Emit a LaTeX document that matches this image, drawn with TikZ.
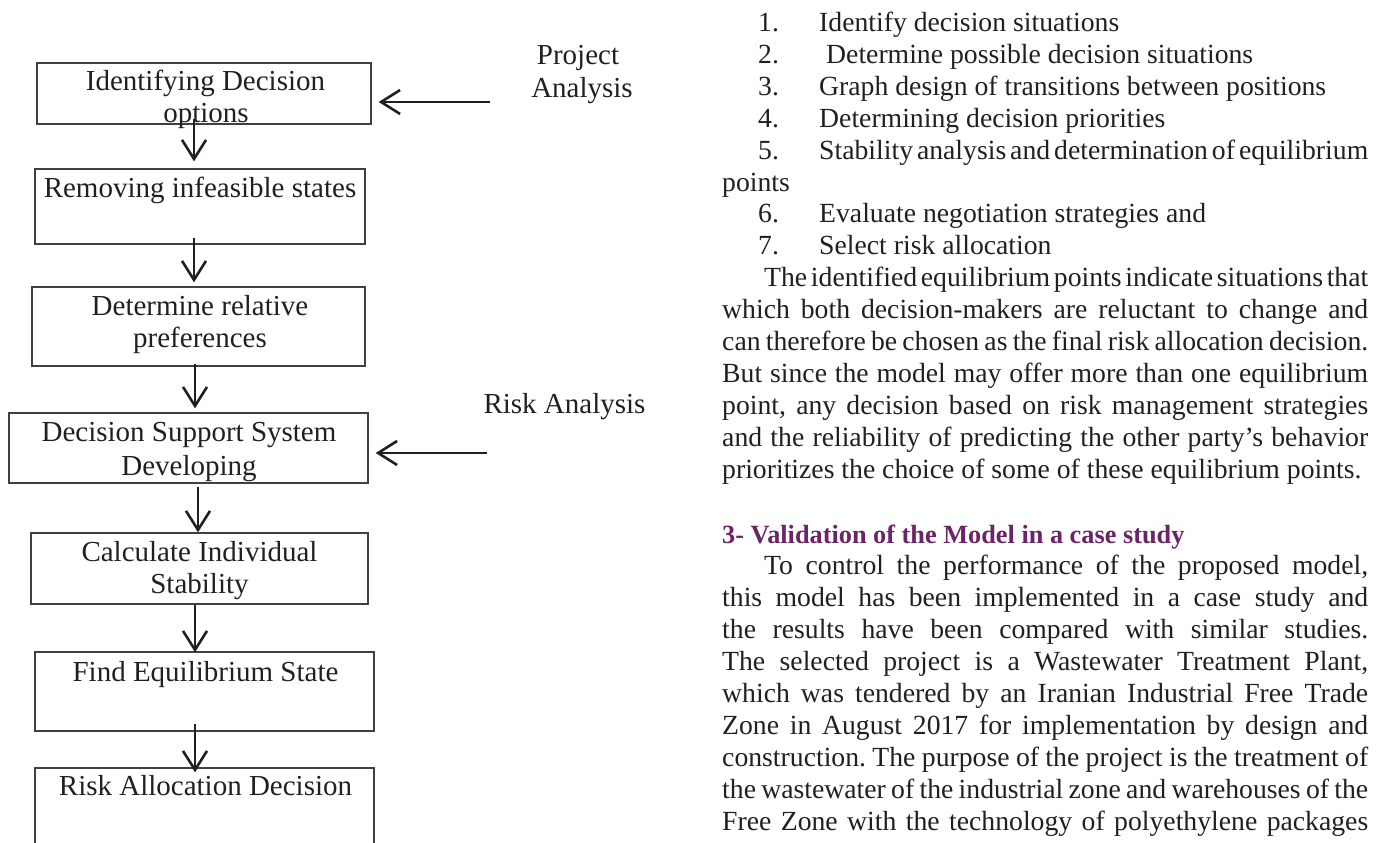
\documentclass[tikz,border=0pt]{standalone}
\usepackage{fontspec}
\setmainfont{Liberation Serif}
\usetikzlibrary{arrows.meta}
\definecolor{headpurple}{RGB}{108,36,104}
\definecolor{ink}{RGB}{35,31,32}
\newcommand{\jlw}[2]{\hbox to #1{\frenchspacing\spaceskip=0.25em plus 1fil minus 0.2em\relax #2}}
\begin{document}
\begin{tikzpicture}[x=1pt,y=-1pt,
  box/.style={draw=black!75, line width=1.3pt, inner sep=0pt, rectangle},
  btxt/.style={anchor=base, inner sep=0pt, text=ink, font=\fontsize{29}{32}\selectfont},
  rtxt/.style={anchor=base west, inner sep=0pt, text=ink, font=\fontsize{27.7}{32}\selectfont},
  htxt/.style={anchor=base west, inner sep=0pt, text=headpurple, font=\fontsize{26.3}{32}\selectfont\bfseries},
  arr/.style={line width=2.6pt, draw=ink, -{Straight Barb[length=19pt,width=24pt,line width=2.6pt]}}]
\useasboundingbox (0,0) rectangle (1376,843);
\clip (0,0) rectangle (1376,843);

% boxes
\node[box, minimum width=334pt, minimum height=61pt] (b1) at (204,93.5) {};
\node[box, minimum width=330pt, minimum height=75pt] (b2) at (200,206.5) {};
\node[box, minimum width=333pt, minimum height=79pt] (b3) at (198.5,326.5) {};
\node[box, minimum width=359pt, minimum height=70pt] (b4) at (188.5,448) {};
\node[box, minimum width=337pt, minimum height=71pt] (b5) at (199.5,568.5) {};
\node[box, minimum width=339pt, minimum height=79pt] (b6) at (204.5,691.5) {};
\node[box, minimum width=339pt, minimum height=120pt] (b7) at (204.5,828) {};

% box texts
\node[btxt] (t1a) at (205.5,91) {Identifying Decision};
\node[btxt] (t1b) at (206,122) {options};
\node[btxt] (t2) at (200,197) {Removing infeasible states};
\node[btxt] (t3a) at (200,315) {Determine relative};
\node[btxt] (t3b) at (200,347) {preferences};
\node[btxt] (t4a) at (189,441) {Decision Support System};
\node[btxt] (t4b) at (189,475) {Developing};
\node[btxt] (t5a) at (199.5,561) {Calculate Individual};
\node[btxt] (t5b) at (199.5,593) {Stability};
\node[btxt] (t6) at (205.5,681) {Find Equilibrium State};
\node[btxt] (t7) at (205.5,795.5) {Risk Allocation Decision};

% vertical arrows
\draw[arr] ([xshift=-10pt,yshift=6pt]b1.south) -- ([xshift=-6pt,yshift=7pt]b2.north);
\draw[arr] ([xshift=-6pt,yshift=7pt]b2.south) -- ([xshift=-4.5pt,yshift=4pt]b3.north);
\draw[arr] ([xshift=-3.5pt,yshift=3pt]b3.south) -- ([xshift=6.5pt,yshift=4pt]b4.north);
\draw[arr] ([xshift=9.5pt,yshift=-3pt]b4.south) -- ([xshift=-1.5pt,yshift=0pt]b5.north);
\draw[arr] ([xshift=-4.5pt]b5.south) -- ([xshift=-9.5pt,yshift=-1pt]b6.north);
\draw[arr] ([xshift=-9.5pt,yshift=8pt]b6.south) -- ([xshift=-9.5pt,yshift=-5pt]b7.north);

% side labels and arrows
\node[btxt] (pa1) at (578,65) {Project};
\node[btxt] (pa2) at (582,97.5) {Analysis};
\coordinate (pas) at (490,102);
\draw[arr, shorten >=7pt] (pas) -- (pas -| b1.east);
\node[btxt] (ra) at (564.5,413) {Risk Analysis};
\coordinate (ras) at (487,453);
\draw[arr, shorten >=7pt] (ras) -- (ras -| b4.east);

% right column text
\node[rtxt] (n1) at (758,31.5) {1.};
\node[rtxt] (i1) at (819,31.5) {Identify decision situations};
\node[rtxt] (n2) at (758,63.4) {2.};
\node[rtxt] (i2) at (826,63.4) {Determine possible decision situations};
\node[rtxt] (n3) at (758,95.3) {3.};
\node[rtxt] (i3) at (819,95.3) {Graph design of transitions between positions};
\node[rtxt] (n4) at (758,127.2) {4.};
\node[rtxt] (i4) at (819,127.2) {Determining decision priorities};
\node[rtxt] (n5) at (758,159.1) {5.};
\node[rtxt] (i5) at (819,159.1) {\jlw{549pt}{Stability analysis and determination of equilibrium}};
\node[rtxt] (i5b) at (722,191) {points};
\node[rtxt] (n6) at (758,222.9) {6.};
\node[rtxt] (i6) at (819,222.9) {Evaluate negotiation strategies and};
\node[rtxt] (n7) at (758,254.8) {7.};
\node[rtxt] (i7) at (819,254.8) {Select risk allocation};

\node[rtxt] (p1) at (764,286.7) {\jlw{604pt}{The identified equilibrium points indicate situations that}};
\node[rtxt] (p2) at (722,318.6) {\jlw{646pt}{which both decision-makers are reluctant to change and}};
\node[rtxt] (p3) at (722,350.5) {\jlw{646pt}{can therefore be chosen as the final risk allocation decision.}};
\node[rtxt] (p4) at (722,382.4) {\jlw{646pt}{But since the model may offer more than one equilibrium}};
\node[rtxt] (p5) at (722,414.3) {\jlw{646pt}{point, any decision based on risk management strategies}};
\node[rtxt] (p6) at (722,446.2) {\jlw{646pt}{and the reliability of predicting the other party’s behavior}};
\node[rtxt] (p7) at (722,478.1) {prioritizes the choice of some of these equilibrium points.};

\node[htxt] (h) at (722,543) {3- Validation of the Model in a case study};

\node[rtxt] (q1) at (764,574.9) {\jlw{604pt}{To control the performance of the proposed model,}};
\node[rtxt] (q2) at (722,606.8) {\jlw{646pt}{this model has been implemented in a case study and}};
\node[rtxt] (q3) at (722,638.7) {\jlw{646pt}{the results have been compared with similar studies.}};
\node[rtxt] (q4) at (722,670.6) {\jlw{646pt}{The selected project is a Wastewater Treatment Plant,}};
\node[rtxt] (q5) at (722,702.5) {\jlw{646pt}{which was tendered by an Iranian Industrial Free Trade}};
\node[rtxt] (q6) at (722,734.4) {\jlw{646pt}{Zone in August 2017 for implementation by design and}};
\node[rtxt] (q7) at (722,766.3) {\jlw{646pt}{construction. The purpose of the project is the treatment of}};
\node[rtxt] (q8) at (722,798.2) {\jlw{646pt}{the wastewater of the industrial zone and warehouses of the}};
\node[rtxt] (q9) at (722,830.1) {\jlw{646pt}{Free Zone with the technology of polyethylene packages}};
\end{tikzpicture}
\end{document}
